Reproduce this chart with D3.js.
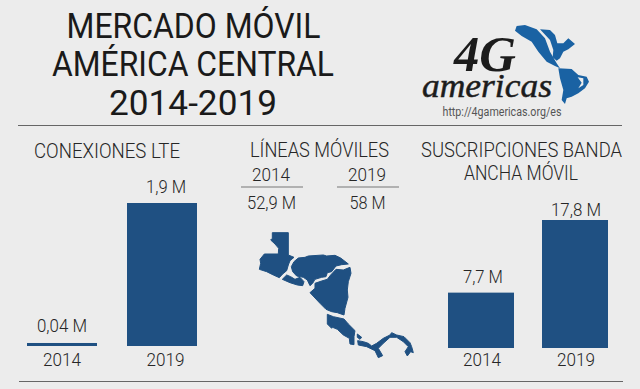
<!DOCTYPE html>
<html>
<head>
<meta charset="utf-8">
<script src="https://cdnjs.cloudflare.com/ajax/libs/d3/7.8.5/d3.min.js"></script>
<style>
html,body{margin:0;padding:0;background:#ececec;overflow:hidden}
svg{display:block}
</style>
</head>
<body>
<script>
var years = ["2014", "2019"];
var lteValues = [0.04, 1.9];
var lteLabels = ["0,04 M", "1,9 M"];
var bandaValues = [7.7, 17.8];
var bandaLabels = ["7,7 M", "17,8 M"];
var lineasLabels = ["52,9 M", "58 M"];

// map shapes
var guatemala = [[157,38],[205,38],[205,105],[222,112],[210,122],[205,135],[200,152],[188,162],[178,173],[160,165],[140,155],[118,148],[122,130],[120,118],[133,102],[175,102],[176,85],[165,72],[152,60],[157,55]];
var salvador = [[187,178],[200,165],[212,170],[225,178],[240,172],[252,185],[248,197],[232,195],[210,188]];
var honduras = [[214,140],[222,125],[235,114],[255,112],[265,108],[310,105],[320,108],[345,106],[362,114],[385,132],[365,134],[348,138],[335,155],[322,158],[318,170],[305,172],[285,178],[278,190],[270,197],[262,180],[250,172],[230,168],[218,155]];
var nicaragua = [[390,142],[393,160],[385,185],[382,210],[384,232],[375,265],[372,285],[352,278],[335,275],[318,268],[300,250],[270,218],[285,205],[285,190],[305,183],[322,178],[332,165],[348,148],[370,150]];
var costaRica = [[322,283],[340,290],[372,297],[385,312],[405,332],[402,350],[402,374],[390,372],[388,355],[370,345],[352,328],[338,322],[335,325],[322,312]];
var panama = [[413,362],[430,365],[445,370],[455,378],[470,370],[490,355],[510,345],[515,338],[530,345],[552,350],[570,368],[575,380],[580,398],[572,395],[562,408],[555,395],[565,380],[550,365],[530,352],[510,352],[490,370],[475,385],[488,407],[475,413],[465,392],[440,380],[415,375]];
var bocas = [[412,342],[425,352],[420,358],[412,352]];
var centralMap = [guatemala, salvador, honduras, nicaragua, costaRica, panama, bocas];

// logo continents
var northA = [[45,32],[50,18],[75,15],[110,28],[135,55],[150,95],[170,130],[180,145],[165,138],[140,125],[115,95],[95,65],[65,48]];
var northB = [[120,28],[150,30],[165,45],[172,70],[190,70],[205,55],[225,72],[205,88],[190,95],[180,115],[170,122],[158,112],[160,90],[150,60]];
var southA = [[175,145],[215,147],[235,165],[260,170],[267,185],[255,205],[235,220],[215,230],[200,235],[195,252],[185,240],[190,210],[180,175]];
var southHueco = [[233,172],[250,175],[250,195],[235,205],[245,188]];

var azul = "#1f5082";
var svg = d3.select("body").append("svg").attr("width", 640).attr("height", 389).style("background", "#ececec");
var line = d3.line().curve(d3.curveLinearClosed);

function texto(str, x, y, size, ancho, peso, cor) {
	return svg.append("text").attr("x", x).attr("y", y)
		.attr("text-anchor", "middle")
		.attr("textLength", ancho).attr("lengthAdjust", "spacingAndGlyphs")
		.style("font-family", "Roboto, sans-serif")
		.style("font-size", size + "px")
		.style("font-weight", peso || 300)
		.attr("fill", cor || "#262626")
		.text(str);
}

function regra(x1, x2, y, cor) {
	svg.append("line").attr("x1", x1).attr("x2", x2).attr("y1", y).attr("y2", y)
		.attr("stroke", cor || "#666").attr("stroke-width", 1);
}

function barras(values, labels, x0, x1, pad, yBase, yTop, vMax, largLabel, gap, dxLabel, dxAno) {
	var x = d3.scaleBand().domain(years).range([x0, x1]).paddingInner(pad);
	var y = d3.scaleLinear().domain([0, vMax]).range([yBase, yTop]);
	svg.append("g").selectAll("rect").data(values).enter().append("rect")
		.attr("x", function(d, i) { return x(years[i]); })
		.attr("y", function(d) { return y(d); })
		.attr("width", x.bandwidth())
		.attr("height", function(d) { return yBase - y(d); })
		.attr("fill", azul);
	values.forEach(function(d, i) {
		var c = x(years[i]) + x.bandwidth() / 2;
		texto(labels[i], c + dxLabel[i], y(d) - gap[i], 18, largLabel[i]);
		texto(years[i], c + dxAno[i], 366, 19, 38);
	});
}

// titulo
texto("MERCADO MÓVIL", 193.5, 38, 35, 254, 400, "#1a1a1a");
texto("AMÉRICA CENTRAL", 193, 76, 35, 282, 400, "#1a1a1a");
texto("2014-2019", 193, 115, 35, 168, 400, "#1a1a1a");
regra(18, 622, 125.5);
regra(19, 623, 381.5);

// conexiones LTE
texto("CONEXIONES LTE", 107, 158, 21, 146);
barras(lteValues, lteLabels, 27, 197, 0.3, 346, 203, 1.9, [50, 40], [11, 10], [0, 4], [0, 3.5]);

// suscripciones
texto("SUSCRIPCIONES BANDA", 521.5, 157, 20, 201);
texto("ANCHA MÓVIL", 521, 180, 20, 114);
barras(bandaValues, bandaLabels, 448, 608, 0.298, 348, 220, 17.8, [40, 50], [10, 4], [2, 1], [1, 1]);

// lineas moviles
texto("LÍNEAS MÓVILES", 319.5, 157, 21, 139);
var lx = d3.scaleBand().domain(years).range([241, 399]).paddingInner(0.354);
var lineasAncho = [49, 36];
years.forEach(function(a, i) {
	var c = lx(a) + lx.bandwidth() / 2;
	texto(a, c - 1, 181, 19, 38);
	regra(lx(a), lx(a) + lx.bandwidth(), 187, "#777");
	texto(lineasLabels[i], c - 0.5, 209, 18, lineasAncho[i]);
});

// mapa
svg.append("g").attr("transform", "translate(220,220) scale(0.3333)")
	.selectAll("path").data(centralMap).enter().append("path")
	.attr("d", line).attr("fill", azul)
	.attr("stroke", azul).attr("stroke-width", 3).attr("stroke-linejoin", "round");

// logo
var logo = svg.append("g").attr("transform", "translate(500,20) scale(0.3333)");
logo.selectAll("path").data([northA, northB, southA]).enter().append("path")
	.attr("d", line).attr("fill", "#1a62a3");
logo.append("path").attr("d", line(southHueco)).attr("fill", "#ececec");
function marca(str, x, y, size, ancho, peso, traco) {
	return svg.append("text").attr("x", x).attr("y", y)
		.attr("textLength", ancho).attr("lengthAdjust", "spacingAndGlyphs")
		.style("font-family", "'Liberation Serif', serif")
		.style("font-style", "italic").style("font-weight", peso)
		.style("font-size", size + "px").attr("fill", "#1c1c1c")
		.attr("stroke", "#1c1c1c").attr("stroke-width", traco).text(str);
}
marca("4G", 454, 71, 50, 62, 700, 0);
marca("americas", 422, 97, 34, 130, 400, 0.5);
texto("http://4gamericas.org/es", 502, 116, 12, 119, 400, "#555");
</script>
</body>
</html>
